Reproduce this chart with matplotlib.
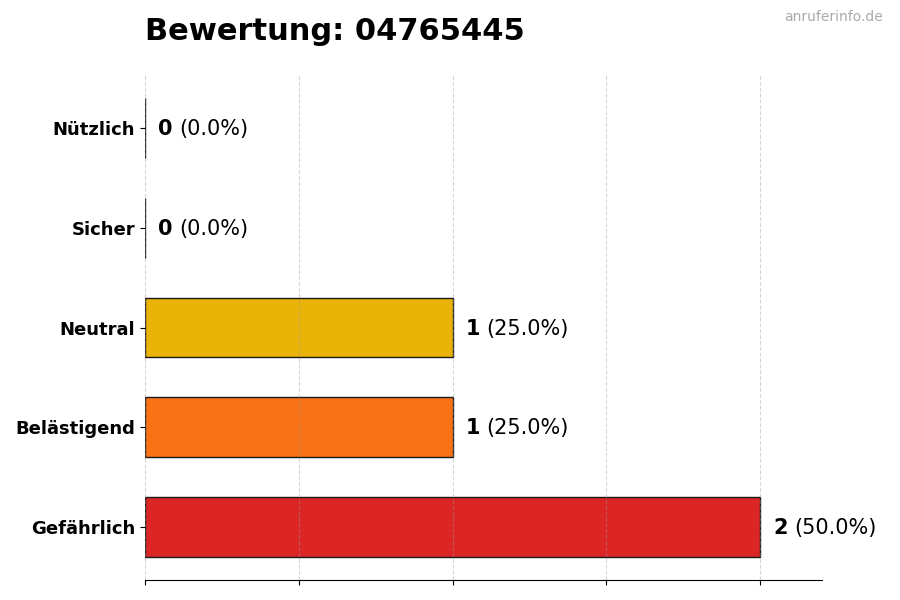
import numpy as np
import matplotlib
matplotlib.use("Agg")
import matplotlib.pyplot as plt

# data (bottom to top)
categories = ["Gefährlich", "Belästigend", "Neutral", "Sicher", "Nützlich"]
counts = [2, 1, 1, 0, 0]
bar_colors = ["#dc2626", "#f97316", "#eab308", "#22c55e", "#16a34a"]
title = "Bewertung: 04765445"

total = sum(counts)
percents = [100.0 * c / total for c in counts]

fig = plt.figure(figsize=(9, 6), dpi=100)
ax = fig.add_axes([0.161, 0.0333, 0.752, 0.8417])

y = np.arange(len(categories))
ax.barh(y, counts, height=0.6, color=bar_colors, edgecolor="#1a1a1a", linewidth=1.0, zorder=2)

ax.set_xlim(0, 2.2)
ax.set_xticks([0, 0.5, 1.0, 1.5, 2.0])
ax.set_xticklabels([])
ax.set_yticks(y)
ax.set_yticklabels(categories, fontsize=13, fontweight="bold")
ax.grid(axis="x", linestyle="--", color="#999999", alpha=0.4, linewidth=0.8, zorder=3)
ax.set_axisbelow(False)
for s in ["top", "right", "left"]:
    ax.spines[s].set_visible(False)

fig.canvas.draw()
renderer = fig.canvas.get_renderer()
for yi, c, p in zip(y, counts, percents):
    t = ax.annotate(str(c), xy=(c, yi - 0.01), xytext=(9.5, 0), textcoords="offset points",
                    ha="left", va="center", fontsize=15, fontweight="bold")
    bb = t.get_window_extent(renderer)
    x_px = bb.x1 + 6.5
    x_data = ax.transData.inverted().transform((x_px, 0))[0]
    ax.text(x_data, yi - 0.01, "(%.1f%%)" % p, ha="left", va="center", fontsize=15,
            clip_on=False)

fig.text(0.161, 0.948, title, fontsize=22, fontweight="bold", ha="left", va="center")
fig.text(0.981, 0.971, "anruferinfo.de", fontsize=10, color="#aaaaaa", ha="right", va="center")

fig.savefig("out.png", dpi=100)
